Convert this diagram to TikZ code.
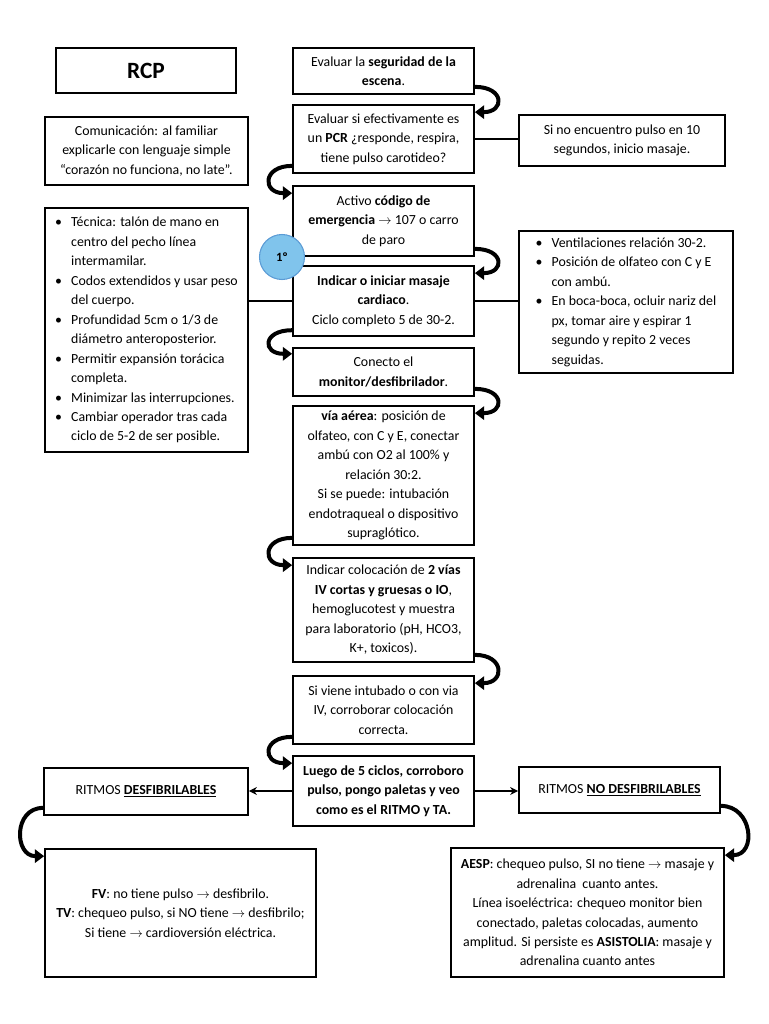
\documentclass[tikz,border=0pt]{standalone}
\usepackage{fontspec}
\setmainfont{Carlito}
\usetikzlibrary{arrows.meta}

\definecolor{celeste}{HTML}{80C4EC}
\definecolor{celesteborde}{HTML}{5B9BD5}
\def\px{0.75pt}
\newcommand{\flecha}{$\rightarrow$}
\newcommand{\vineta}{\makebox[12pt][l]{\textbullet}}

\tikzset{
  caja/.style={draw, line width=1.3pt, align=center, inner sep=2pt},
  giro/.style={line width=3pt, -{Triangle[length=7pt,width=10pt]}},
  linea/.style={line width=1.2pt},
  flechita/.style={line width=1.5pt, -{Stealth[length=6pt,width=6pt]}}
}

\begin{document}
\begin{tikzpicture}[x=\px, y=-\px, font=\fontsize{10.4}{14.6}\selectfont]
  \useasboundingbox (0,0) rectangle (768,1024);

  % Central column
  \node[caja, minimum width=181*\px, minimum height=46*\px] (seg) at (383.5,71)
    {Evaluar la \textbf{seguridad de la}\\ \textbf{escena}.};
  \node[caja, minimum width=181*\px, minimum height=68*\px] (pcr) at (383.5,139)
    {Evaluar si efectivamente es\\ un \textbf{PCR} ¿responde, respira,\\ tiene pulso carotideo?};
  \node[caja, minimum width=181*\px, minimum height=70*\px] (act) at (383.5,221)
    {Activo \textbf{código de}\\ \textbf{emergencia} \flecha{} 107 o carro\\ de paro};
  \node[caja, minimum width=181*\px, minimum height=70*\px] (ind) at (383.5,301)
    {\textbf{Indicar o iniciar masaje}\\ \textbf{cardiaco}.\\ Ciclo completo 5 de 30-2.};
  \node[caja, minimum width=181*\px, minimum height=48*\px] (con) at (383.5,372)
    {Conecto el\\ \textbf{monitor/desfibrilador}.};
  \node[caja, minimum width=181*\px, minimum height=139*\px] (via) at (383.5,475.5)
    {\textbf{vía aérea}: posición de\\ olfateo, con C y E, conectar\\ ambú con O2 al 100\% y\\ relación 30:2.\\
     Si se puede: intubación\\ endotraqueal o dispositivo\\ supraglótico.};
  \node[caja, minimum width=181*\px, minimum height=104*\px] (col) at (383.5,610)
    {Indicar colocación de \textbf{2 vías}\\ \textbf{IV cortas y gruesas o IO},\\ hemoglucotest y muestra\\
     para laboratorio (pH, HCO3,\\ K+, toxicos).};
  \node[caja, minimum width=181*\px, minimum height=68*\px] (vie) at (383.5,710)
    {Si viene intubado o con via\\ IV, corroborar colocación\\ correcta.};
  \node[caja, minimum width=181*\px, minimum height=70*\px, font=\fontsize{10.4}{14.6}\selectfont\bfseries] (lue) at (383.5,791)
    {Luego de 5 ciclos, corroboro\\ pulso, pongo paletas y veo\\ como es el RITMO y TA.};

  \node[circle, fill=celeste, draw=celesteborde, line width=0.8pt, minimum size=45*\px, inner sep=0pt,
    font=\fontsize{9.5}{11}\selectfont\bfseries] (primero) at (282,257) {1º};

  % Left column
  \node[caja, minimum width=180*\px, minimum height=45*\px, font=\fontsize{17.5}{20}\selectfont\bfseries] (rcp) at (146,70.5) {RCP};
  \node[caja, minimum width=203*\px, minimum height=68*\px] (com) at (146.5,151)
    {Comunicación: al familiar\\ explicarle con lenguaje simple\\ “corazón no funciona, no late”.};
  \node[caja, minimum width=203*\px, minimum height=244*\px] (tec) at (146.5,330)
    {\begin{tabular}{@{}l@{}l@{}}
      \vineta & Técnica: talón de mano en\\ & centro del pecho línea\\ & intermamilar.\\
      \vineta & Codos extendidos y usar peso\\ & del cuerpo.\\
      \vineta & Profundidad 5cm o 1/3 de\\ & diámetro anteroposterior.\\
      \vineta & Permitir expansión torácica\\ & completa.\\
      \vineta & Minimizar las interrupciones.\\
      \vineta & Cambiar operador tras cada\\ & ciclo de 5-2 de ser posible.
    \end{tabular}};
  \node[caja, minimum width=204*\px, minimum height=47*\px] (des) at (146,791.5)
    {RITMOS \underline{\textbf{DESFIBRILABLES}}};
  \node[caja, minimum width=271*\px, minimum height=128*\px] (fv) at (180.5,913)
    {\textbf{FV}: no tiene pulso \flecha{} desfibrilo.\\ \textbf{TV}: chequeo pulso, si NO tiene \flecha{} desfibrilo;\\
     Si tiene \flecha{} cardioversión eléctrica.};

  % Right column
  \node[caja, minimum width=206*\px, minimum height=51*\px] (pulso) at (622,140.5)
    {Si no encuentro pulso en 10\\ segundos, inicio masaje.};
  \node[caja, minimum width=214*\px, minimum height=140*\px] (ven) at (626,302)
    {\begin{tabular}{@{}l@{}l@{}}
      \vineta & Ventilaciones relación 30-2.\\
      \vineta & Posición de olfateo con C y E\\ & con ambú.\\
      \vineta & En boca-boca, ocluir nariz del\\ & px, tomar aire y espirar 1\\ & segundo y repito 2 veces\\ & seguidas.
    \end{tabular}};
  \node[caja, minimum width=201*\px, minimum height=46*\px] (nod) at (619.5,790)
    {RITMOS \underline{\textbf{NO DESFIBRILABLES}}};
  \node[caja, minimum width=273*\px, minimum height=129*\px] (aesp) at (587.5,912.5)
    {\textbf{AESP}: chequeo pulso, SI no tiene \flecha{} masaje y\\ adrenalina\ \ cuanto antes.\\
     Línea isoeléctrica: chequeo monitor bien\\ conectado, paletas colocadas, aumento\\
     amplitud. Si persiste es \textbf{ASISTOLIA}: masaje y\\ adrenalina cuanto antes};

  % Side links
  \draw[linea] (pcr.east) -- (pcr.east -| pulso.west);
  \draw[linea] (ind.west) -- (ind.west -| tec.east);
  \draw[linea] (ind.east) -- (ind.east -| ven.west);
  \draw[flechita] (lue.west) -- (lue.west -| des.east);
  \draw[flechita] (lue.east) -- (lue.east -| nod.west);

  % Curved arrows
  \draw[giro] ([yshift=6pt]seg.south east) .. controls +(30,0) and +(30,0) .. ([yshift=-6pt]pcr.north east);
  \draw[giro] ([yshift=6pt]pcr.south west) .. controls +(-30,0) and +(-30,0) .. ([yshift=-6pt]act.north west);
  \draw[giro] ([yshift=6pt]act.south east) .. controls +(30,0) and +(30,0) .. ([yshift=-6pt]ind.north east);
  \draw[giro] ([yshift=5pt]ind.south west) .. controls +(-30,0) and +(-30,0) .. ([yshift=-5pt]con.north west);
  \draw[giro] ([yshift=6pt]con.south east) .. controls +(30,0) and +(30,0) .. ([yshift=-6pt]via.north east);
  \draw[giro] ([yshift=6pt]via.south west) .. controls +(-30,0) and +(-30,0) .. ([yshift=-6pt]col.north west);
  \draw[giro] ([yshift=6pt]col.south east) .. controls +(30,0) and +(30,0) .. ([yshift=-6pt]vie.north east);
  \draw[giro] ([yshift=6pt]vie.south west) .. controls +(-30,0) and +(-30,0) .. ([yshift=-6pt]lue.north west);
  \draw[giro] ([yshift=6pt]des.south west) .. controls +(-30,0) and +(-30,0) .. ([yshift=-6pt]fv.north west);
  \draw[giro] ([yshift=6pt]nod.south east) .. controls +(32,0) and +(32,0) .. ([yshift=-6pt]aesp.north east);

\end{tikzpicture}
\end{document}
